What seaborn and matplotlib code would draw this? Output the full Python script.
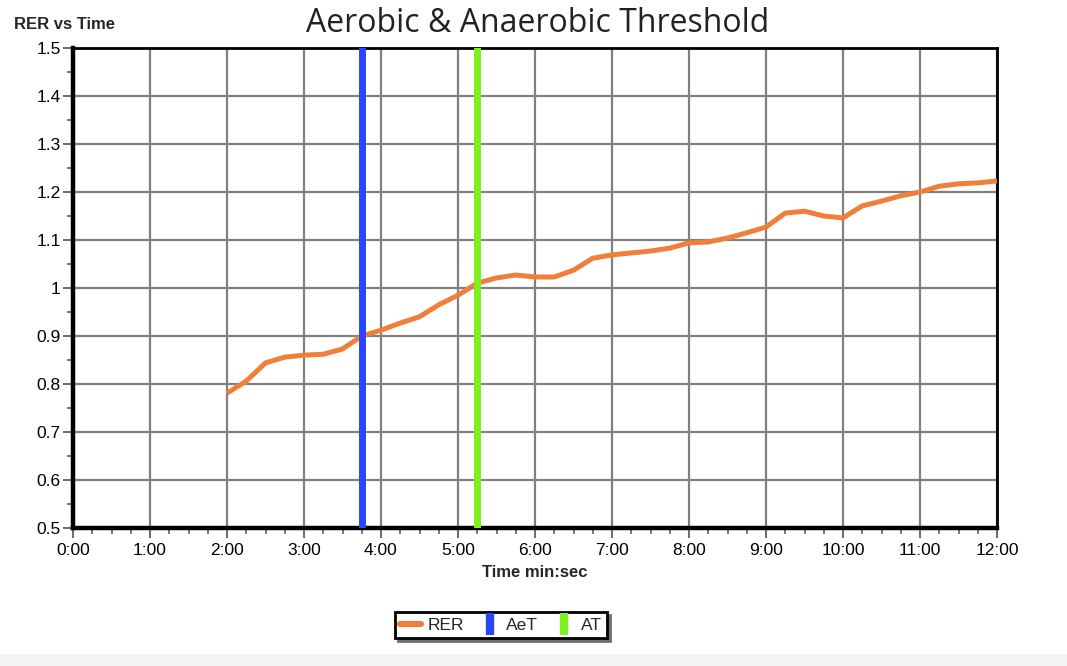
import matplotlib
matplotlib.use("Agg")
import matplotlib.pyplot as plt
import seaborn as sns
import pandas as pd
from matplotlib.lines import Line2D
from matplotlib.patches import Rectangle
from matplotlib.ticker import MultipleLocator, FixedLocator, FixedFormatter

# ---------------- data ----------------
times = ["2:00", "2:15", "2:30", "2:45", "3:00", "3:15", "3:30", "3:45",
         "4:00", "4:15", "4:30", "4:45", "5:00", "5:15", "5:30", "5:45",
         "6:00", "6:15", "6:30", "6:45", "7:00", "7:15", "7:30", "7:45",
         "8:00", "8:15", "8:30", "8:45", "9:00", "9:15", "9:30", "9:45",
         "10:00", "10:15", "10:30", "10:45", "11:00", "11:15", "11:30", "11:45",
         "12:00"]
rer = [0.781, 0.806, 0.844, 0.856, 0.860, 0.862, 0.873, 0.900,
       0.912, 0.927, 0.940, 0.965, 0.985, 1.010, 1.021, 1.027,
       1.023, 1.023, 1.037, 1.062, 1.069, 1.073, 1.077, 1.083,
       1.094, 1.096, 1.104, 1.115, 1.127, 1.156, 1.160, 1.150,
       1.146, 1.171, 1.181, 1.192, 1.200, 1.212, 1.217, 1.219,
       1.223]
aet_time = "3:45"
at_time = "5:15"
x_tick_labels = ["0:00", "1:00", "2:00", "3:00", "4:00", "5:00", "6:00",
                 "7:00", "8:00", "9:00", "10:00", "11:00", "12:00"]
y_tick_values = [0.5, 0.6, 0.7, 0.8, 0.9, 1.0, 1.1, 1.2, 1.3, 1.4, 1.5]
y_tick_labels = ["0.5", "0.6", "0.7", "0.8", "0.9", "1", "1.1", "1.2",
                 "1.3", "1.4", "1.5"]
legend_labels = ["RER", "AeT", "AT"]


def to_min(s):
    m, sec = s.split(":")
    return int(m) + int(sec) / 60.0


df = pd.DataFrame({"Time": [to_min(t) for t in times], "RER": rer})
x_tick_values = [to_min(t) for t in x_tick_labels]

ORANGE = "#F07F3C"
BLUE = "#2846F8"
GREEN = "#7FF01E"
GRID = "#808080"

sns.set_style("white")
plt.rcParams["font.family"] = ["Liberation Sans", "DejaVu Sans"]

W, H = 1067, 666
fig = plt.figure(figsize=(W / 100, H / 100), dpi=100)
fig.patches.append(Rectangle((0, 0), 1, 12 / H, transform=fig.transFigure,
                             facecolor="#f4f4f4", edgecolor="none", zorder=0))
ax = fig.add_axes([73 / W, 1 - 528 / H, (997 - 73) / W, (528 - 48) / H])

sns.lineplot(data=df, x="Time", y="RER", ax=ax, color=ORANGE, lw=3.6,
             zorder=3, solid_capstyle="butt")
ax.axvline(to_min(aet_time), color=BLUE, lw=5, zorder=4)
ax.axvline(to_min(at_time), color=GREEN, lw=5, zorder=4)

ax.set_xlim(0, 12)
ax.set_ylim(0.5, 1.5)
ax.xaxis.set_major_locator(FixedLocator(x_tick_values))
ax.xaxis.set_major_formatter(FixedFormatter(x_tick_labels))
ax.xaxis.set_minor_locator(MultipleLocator(0.25))
ax.yaxis.set_major_locator(FixedLocator(y_tick_values))
ax.yaxis.set_major_formatter(FixedFormatter(y_tick_labels))
ax.yaxis.set_minor_locator(MultipleLocator(0.05))

ax.set_axisbelow(True)
ax.grid(True, which="major", color=GRID, lw=1.6)
ax.tick_params(axis="both", which="both", bottom=True, left=True,
               top=False, right=False)
ax.tick_params(axis="both", which="major", direction="out", length=7,
               width=1.3, color="#606060", labelsize=12.5, labelcolor="black")
ax.tick_params(axis="y", which="major", pad=2)
ax.tick_params(axis="x", which="major", pad=4)
ax.tick_params(axis="both", which="minor", direction="out", length=4,
               width=1.2, color="#606060")

for side in ["left", "bottom"]:
    ax.spines[side].set_linewidth(3.2)
    ax.spines[side].set_color("black")
for side in ["top", "right"]:
    ax.spines[side].set_linewidth(2.0)
    ax.spines[side].set_color("black")
    ax.spines[side].set_visible(True)

ax.set_xlabel("Time min:sec", fontsize=12, fontweight="bold", labelpad=5)
ax.set_ylabel("")

fig.text(306 / W, 1 - 32 / H, "Aerobic & Anaerobic Threshold",
         fontsize=23, family=["Open Sans", "DejaVu Sans"], color="#222222",
         ha="left", va="baseline")
fig.text(14 / W, 1 - 29 / H, "RER vs Time", fontsize=12, fontweight="bold",
         ha="left", va="baseline")

handles = [
    Line2D([], [], color=ORANGE, lw=4.5, solid_capstyle="round"),
    Line2D([], [], color=BLUE, marker="|", linestyle="None",
           markersize=16, markeredgewidth=6),
    Line2D([], [], color=GREEN, marker="|", linestyle="None",
           markersize=16, markeredgewidth=6),
]
leg = fig.legend(handles, legend_labels, loc="center",
                 bbox_to_anchor=(501 / W, 1 - 625 / H), ncol=3,
                 frameon=True, fancybox=False, edgecolor="black",
                 framealpha=1, fontsize=12.5, handlelength=1.2,
                 handletextpad=0.35, columnspacing=0.9, borderpad=0.3,
                 borderaxespad=0,
                 shadow={"facecolor": "#707070", "edgecolor": "#707070",
                         "alpha": 1})
leg.get_frame().set_linewidth(2)

fig.canvas.draw()
renderer = fig.canvas.get_renderer()
fb = leg.get_frame().get_window_extent(renderer)
for t in leg.get_texts()[:2]:
    tb = t.get_window_extent(renderer)
    xd = (tb.x1 + 5) / W
    fig.add_artist(Line2D([xd, xd], [fb.y0 / H, fb.y1 / H],
                          transform=fig.transFigure, color="black", lw=2))

fig.savefig("out.png", dpi=100)
